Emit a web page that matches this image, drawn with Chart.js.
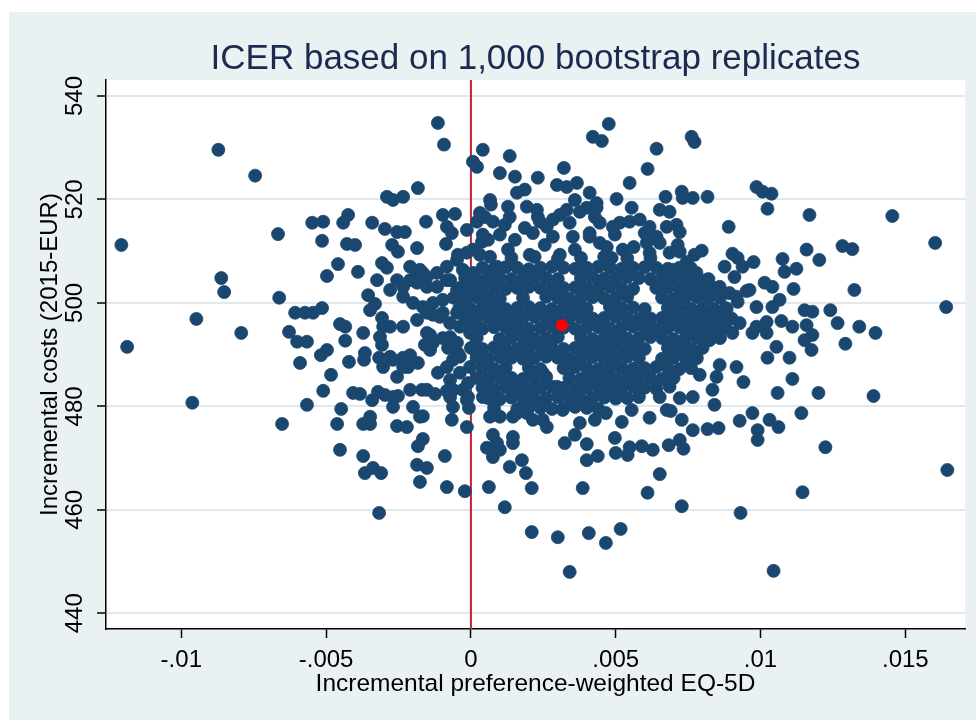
<!DOCTYPE html>
<html>
<head>
<meta charset="utf-8">
<title>ICER based on 1,000 bootstrap replicates</title>
<script src="https://cdn.jsdelivr.net/npm/chart.js@4.4.1/dist/chart.umd.min.js"></script>
<style>
  html, body { margin: 0; padding: 0; background: #ffffff; }
  #wrap { width: 976px; height: 720px; }
</style>
</head>
<body>
<div id="wrap"><canvas id="icerChart" width="976" height="720"></canvas></div>
<script>
// Axis set-up
var xTicks = [-0.01, -0.005, 0, 0.005, 0.01, 0.015];
var xTickLabels = ['-.01', '-.005', '0', '.005', '.01', '.015'];
var yTicks = [440, 460, 480, 500, 520, 540];
var xRange = [-0.0126, 0.01706];
var yRange = [436.96, 543.09];

// The point estimate (red dot)
var pointEstimate = [[0.00314, 495.7]];

// Bootstrap replicates: [incremental EQ-5D, incremental cost]
// left wing, mostly negative effects
var repsLeft = [
  [-0.01207,511.2],[-0.01187,491.5],[-0.00872,529.6],[-0.00948,496.9],[-0.00862,504.8],[-0.00852,502.1],
  [-0.00962,480.7],[-0.00793,494.2],[-0.00745,524.6],[-0.00666,513.3],[-0.00662,501.0],[-0.00652,476.6],
  [-0.00628,494.4],[-0.00600,492.5],[-0.00566,492.5],[-0.00590,488.4],[-0.00518,489.9],[-0.00497,490.9],
  [-0.00483,486.1],[-0.00510,483.0],[-0.00566,480.3],[-0.00607,498.1],[-0.00573,498.1],[-0.00545,498.1],
  [-0.00514,499.0],[-0.00548,515.5],[-0.00510,515.7],[-0.00514,512.0],[-0.00441,515.5],[-0.00424,517.0],
  [-0.00428,511.4],[-0.00400,511.2],[-0.00341,515.5],[-0.00459,507.5],[-0.00497,505.2],[-0.00390,506.0],
  [-0.00307,507.7],[-0.00290,506.8],[-0.00255,504.4],[-0.00355,501.5],[-0.00331,499.8],[-0.00452,495.9],
  [-0.00434,495.4],[-0.00372,494.2],[-0.00307,497.1],[-0.00303,495.4],[-0.00434,492.7],[-0.00421,488.6],
  [-0.00366,490.3],[-0.00369,489.0],[-0.00448,479.5],[-0.00462,476.6],[-0.00452,471.6],[-0.00407,482.6],
  [-0.00383,482.4],[-0.00341,481.2],[-0.00321,482.8],[-0.00297,482.2],[-0.00348,478.0],[-0.00372,476.6],
  [-0.00348,476.6],[-0.00372,470.4],[-0.00366,467.1],[-0.00338,468.1],[-0.00310,467.1],[-0.00317,459.4],
  [-0.00314,493.4],[-0.00307,491.9],[-0.00317,489.4],[-0.00303,487.6],[-0.00269,489.0],[-0.00234,489.4],
  [-0.00210,489.9],[-0.00217,487.6],[-0.00183,488.4],[-0.00255,485.7],[-0.00252,482.0],[-0.00269,479.9],
  [-0.00255,476.2],[-0.00221,476.0],[-0.00210,483.2],[-0.00200,479.9],[-0.00169,483.2],[-0.00152,483.2],
  [-0.00124,482.4],[-0.00166,478.1],[-0.00183,472.3],[-0.00166,473.7],[-0.00186,468.7],[-0.00152,468.1],
  [-0.00176,465.4],[-0.00083,464.4],[-0.00090,470.4],[-0.00021,463.6],[-0.00114,486.5],[-0.00159,491.9],
  [-0.00131,492.3],[-0.00097,493.2],[-0.00079,491.3],[-0.00048,492.3],[-0.00141,493.8],[-0.00038,489.6],
  [-0.00072,485.1],[-0.00062,483.2],[-0.00072,481.8],[-0.00062,479.9],[-0.00066,477.4],[-0.00010,484.5],
  [-0.00010,481.8],[-0.00007,479.7],[-0.00014,476.0],[-0.00003,487.6],[-0.00234,487.6],[-0.00279,489.6],
  [-0.00141,490.9],[-0.00072,493.4],[-0.00045,490.3],[-0.00062,489.0],[-0.00083,487.6],[-0.00038,486.5],
  [-0.00269,481.8],[-0.00083,483.0],[-0.00028,483.2],[-0.00014,481.2],[-0.00176,478.0],
  [-0.00324,504.4],[-0.00279,502.5],[-0.00234,503.1],[-0.00186,503.9],[-0.00152,503.1],[-0.00117,503.1],
  [-0.00072,504.4],[-0.00234,501.2],[-0.00200,500.0],[-0.00166,499.2],[-0.00131,500.0],[-0.00097,500.6],
  [-0.00048,502.5],[-0.00028,501.2],[-0.00003,502.5],[0.00031,501.9],[0.00041,503.9],[0.00007,505.8],
  [-0.00028,506.4],[-0.00348,498.6],[-0.00279,495.4],[-0.00234,495.4],[-0.00186,496.7],[-0.00152,498.1],
  [-0.00107,497.3],[-0.00072,496.1],[-0.00048,498.1],[-0.00003,498.6],[0.00031,498.1],[-0.00038,495.4],
  [-0.00003,494.2],[-0.00152,494.2],[-0.00131,497.7],[-0.00097,498.1]
];

// upper band, costs above ~505
var repsUpper = [
  [-0.00114,534.8],[-0.00093,530.6],[-0.00183,522.2],[-0.00290,520.5],[-0.00269,519.9],[-0.00234,520.5],
  [-0.00155,515.7],[-0.00297,514.3],[-0.00255,513.7],[-0.00228,513.7],[-0.00272,511.2],[-0.00252,509.9],
  [-0.00186,510.6],[-0.00097,517.0],[-0.00055,517.2],[-0.00083,514.7],[-0.00066,513.5],[-0.00086,511.4],
  [-0.00014,514.1],[0.00007,527.3],[0.00021,526.3],[-0.00210,507.0],[-0.00176,506.4],[-0.00193,504.8],
  [-0.00166,505.8],[-0.00210,504.4],[-0.00152,505.0],[-0.00117,505.8],[-0.00083,507.0],[-0.00048,508.3],
  [-0.00083,504.4],[-0.00045,509.3],[-0.00014,509.7],[0.00021,515.7],[0.00048,516.6],[0.00031,517.4],
  [0.00076,515.7],[0.00041,513.2],[0.00038,511.8],[0.00007,510.3],[0.00031,509.3],[0.00066,508.9],
  [0.00090,507.0],[0.00128,510.3],
  [0.00066,519.9],[0.00069,519.0],[0.00041,529.6],[0.00134,528.4],[0.00100,525.1],[0.00152,524.4],
  [0.00159,521.3],[0.00231,524.2],[0.00186,521.9],[0.00128,518.6],[0.00134,516.6],[0.00193,518.6],
  [0.00228,518.0],[0.00297,522.8],[0.00331,522.4],[0.00366,523.2],[0.00359,519.9],[0.00331,518.0],
  [0.00307,517.0],[0.00410,521.3],[0.00434,519.3],[0.00321,526.1],[0.00476,534.6],[0.00421,532.1],
  [0.00452,531.3],[0.00762,532.1],[0.00772,531.1],[0.00641,529.8],[0.00610,525.9],[0.00548,523.2],
  [0.00503,520.1],[0.00672,520.5],[0.00728,521.5],[0.00731,520.3],[0.00766,520.3],[0.00817,520.5],
  [0.00986,522.4],[0.01007,521.5],[0.01038,521.1],[0.01024,518.2],[0.01169,517.0],[0.01455,516.8],
  [0.01603,511.6],[0.00231,516.6],[0.00376,517.6],[0.00400,518.4],[0.00434,518.4],[0.00428,516.6],
  [0.00555,518.4],[0.00652,518.0],[0.00686,517.6],[0.00890,514.7],[0.00490,514.7],[0.00514,515.5],
  [0.00548,515.7],[0.00583,516.1],[0.00617,514.7],[0.00676,514.7],[0.00710,515.1],[0.00214,513.5],
  [0.00262,514.7],[0.00283,516.1],[0.00341,515.5],[0.00410,513.5],[0.00445,515.5],[0.00283,512.8],
  [0.00352,512.8],[0.00469,510.8],[0.00562,510.8],[0.00628,512.8],[0.00714,511.2],[0.00721,509.9],
  [0.00797,510.1],[0.00410,512.8],[0.00445,511.6],[0.00524,510.3],[0.00607,511.6],[0.00641,512.8],
  [0.00617,509.7],[0.00686,509.7],[0.00697,506.4],[0.00745,507.9],
  [0.00100,513.2],[0.00152,512.2],[0.00186,514.5],[0.00255,511.2],[0.00359,510.3],[0.00117,515.1],
  [0.00059,512.2],[0.00203,509.3],[0.00307,509.3],[0.00238,515.7],[0.00497,513.2],[0.00600,513.5],
  [0.00652,511.6],[0.00721,513.7],[0.00772,509.3],[0.00486,508.7]
];

// right wing, larger effects
var repsRight = [
  [0.00876,507.0],[0.00903,509.5],[0.00921,508.7],[0.00938,507.0],[0.00910,505.0],[0.00976,507.9],
  [0.01076,508.5],[0.01083,506.0],[0.01124,506.6],[0.01159,510.3],[0.01203,508.3],[0.01283,511.0],
  [0.01317,510.4],[0.01324,502.5],[0.01114,502.7],[0.01014,503.9],[0.01041,503.1],[0.00952,502.3],
  [0.01066,500.6],[0.01041,499.2],[0.00986,499.2],[0.01152,498.6],[0.01179,498.3],[0.01241,498.6],
  [0.00883,498.8],[0.00921,500.2],[0.00834,501.9],[0.00859,503.1],[0.00779,505.8],[0.00814,504.4],
  [0.01641,499.2],[0.01159,495.7],[0.01179,493.8],[0.01266,496.1],[0.01341,495.4],[0.01397,494.2],
  [0.00986,495.4],[0.01021,496.3],[0.01072,496.5],[0.01021,494.2],[0.00972,494.2],[0.00928,496.1],
  [0.00903,494.2],[0.00834,498.1],[0.00859,495.4],[0.00824,494.2],[0.00755,505.0],[0.00962,502.5],
  [0.00917,501.2],[0.00893,501.9],[0.00766,503.9],[0.00869,497.3],[0.01110,495.4],
  [0.01645,467.7],[0.01390,482.0],[0.01293,492.1],[0.01200,482.6],[0.01224,472.1],[0.01145,463.4],
  [0.01045,448.2],[0.00931,459.4],[0.00841,480.3],[0.00928,477.2],[0.00972,478.7],[0.00990,475.4],
  [0.00990,473.5],[0.01031,477.4],[0.01062,476.0],[0.01141,478.7],[0.01110,485.3],[0.01059,482.6],
  [0.00941,484.7],[0.01024,489.4],[0.01055,491.5],[0.01100,489.4],[0.01152,492.8],[0.01176,490.9],
  [0.00859,488.0],[0.00917,487.6],[0.00834,483.2],[0.00790,486.1],[0.00745,488.4],[0.00766,481.8],
  [0.00848,485.7],[0.00779,490.3],[0.00824,492.8],[0.00848,494.2],[0.00755,494.8],[0.00686,483.8],
  [0.00721,481.6]
];

// lower band, costs below ~480
var repsLower = [
  [0.00341,448.0],[0.00728,460.7],[0.00610,463.3],[0.00652,466.9],[0.00517,456.3],[0.00466,453.6],
  [0.00407,455.5],[0.00300,454.7],[0.00210,455.7],[0.00386,464.2],[0.00210,464.2],[0.00062,464.4],
  [0.00117,460.5],[0.00134,468.3],[0.00176,469.6],[0.00190,467.1],[0.00055,472.0],[0.00076,470.2],
  [0.00100,471.6],[0.00076,474.5],[0.00145,472.9],[0.00214,477.4],[0.00262,476.0],[0.00324,472.9],
  [0.00359,474.5],[0.00400,472.7],[0.00400,469.6],[0.00438,470.4],[0.00500,471.0],[0.00541,470.6],
  [0.00548,472.1],[0.00590,472.3],[0.00628,471.6],[0.00497,473.9],[0.00521,477.0],[0.00683,472.5],
  [0.00721,473.5],[0.00734,471.8],[0.00376,476.8],[0.00428,477.4],[0.00466,478.7],[0.00617,477.8],
  [0.00690,479.1],[0.00728,477.4],[0.00766,475.4],[0.00817,475.6],[0.00855,475.8],[0.00676,479.3],
  [0.00652,481.8],[0.00555,479.3],[0.00503,482.6],[0.00445,482.6],[0.00376,483.2],[0.00317,479.3],
  [0.00297,483.8],[0.00248,486.5],[0.00203,483.2],[0.00179,479.3],[0.00145,478.0],[0.00100,478.0],
  [0.00066,478.0],[0.00041,481.8],[0.00090,481.8],[0.00090,472.9],[0.00145,474.1],[0.00193,478.7],
  [0.00159,478.7],[0.00248,477.4]
];

// dense core of the cloud around the point estimate
var repsCore = [
  [0.0014,508.7],[0.0022,508.9],[0.0030,508.5],[0.0038,508.7],[0.0046,508.9],[0.0054,508.6],[0.0062,508.7],
  [0.0004,506.8],[0.0008,506.6],[0.0012,506.9],[0.0016,506.8],[0.0020,506.5],[0.0024,506.8],[0.0028,507.0],
  [0.0032,506.8],[0.0036,506.6],[0.0040,506.8],[0.0044,507.0],[0.0048,506.8],[0.0052,506.6],[0.0056,506.8],
  [0.0060,506.9],[0.0064,506.8],[0.0068,506.6],[0.0072,506.8],[0.0076,506.7],
  [-0.0002,504.8],[0.0002,504.6],[0.0006,504.9],[0.0010,504.8],[0.0014,504.6],[0.0018,504.8],[0.0022,505.0],
  [0.0026,504.8],[0.0030,504.6],[0.0038,504.8],[0.0042,504.9],[0.0046,504.7],[0.0050,504.8],
  [0.0054,505.0],[0.0058,504.8],[0.0062,504.6],[0.0066,504.8],[0.0070,504.9],[0.0074,504.7],[0.0078,504.8],
  [0.0082,504.6],
  [-0.0004,502.9],[0.0000,502.7],[0.0004,503.0],[0.0008,502.9],[0.0012,502.7],[0.0016,502.9],[0.0020,503.1],
  [0.0024,502.9],[0.0028,502.7],[0.0032,502.9],[0.0036,503.0],[0.0040,502.8],[0.0044,502.9],[0.0048,503.1],
  [0.0052,502.9],[0.0056,502.7],[0.0064,502.9],[0.0068,503.0],[0.0072,502.8],[0.0076,502.9],[0.0080,502.7],
  [0.0084,502.9],
  [-0.0006,501.0],[-0.0002,500.8],[0.0002,501.1],[0.0006,501.0],[0.0010,500.8],[0.0018,501.0],
  [0.0026,501.2],[0.0030,501.0],[0.0034,500.8],[0.0038,501.0],[0.0042,501.1],[0.0046,500.9],
  [0.0050,501.0],[0.0054,501.2],[0.0066,501.0],[0.0070,500.8],[0.0074,501.0],[0.0078,501.1],[0.0082,500.9],
  [0.0086,501.0],
  [-0.0004,499.0],[0.0000,498.8],[0.0004,499.1],[0.0008,499.0],[0.0012,498.8],[0.0016,499.0],[0.0020,499.2],
  [0.0024,499.0],[0.0028,498.8],[0.0032,499.0],[0.0036,499.1],[0.0040,498.9],[0.0048,499.2],
  [0.0052,499.0],[0.0056,499.1],[0.0060,498.8],[0.0068,499.0],[0.0072,499.1],[0.0076,498.9],[0.0080,499.0],
  [0.0084,498.8],[0.0088,499.0],
  [-0.0002,497.1],[0.0002,496.9],[0.0006,497.2],[0.0010,497.1],[0.0014,496.9],[0.0018,497.1],[0.0022,497.3],
  [0.0026,497.1],[0.0030,496.9],[0.0034,497.1],[0.0038,497.2],[0.0042,497.0],[0.0046,497.1],[0.0050,497.3],
  [0.0054,497.1],[0.0058,496.9],[0.0062,497.0],[0.0066,497.1],[0.0070,497.2],[0.0074,497.0],[0.0078,497.1],
  [0.0082,496.9],[0.0086,497.1],[0.0090,497.0],
  [0.0000,495.2],[0.0004,495.0],[0.0008,495.3],[0.0012,495.2],[0.0016,495.1],[0.0020,495.0],[0.0024,495.2],
  [0.0028,495.4],[0.0032,495.2],[0.0036,495.0],[0.0040,495.2],[0.0044,495.3],[0.0048,495.1],[0.0052,495.2],
  [0.0056,495.4],[0.0060,495.2],[0.0064,495.0],[0.0068,495.2],[0.0072,495.3],[0.0076,495.1],[0.0080,495.2],
  [0.0084,495.0],[0.0088,495.2],
  [0.0002,493.2],[0.0010,493.0],[0.0014,493.3],[0.0018,493.2],[0.0022,493.0],[0.0026,493.2],
  [0.0030,493.4],[0.0038,493.2],[0.0042,493.0],[0.0046,493.2],[0.0050,493.3],[0.0054,493.1],
  [0.0058,493.2],[0.0062,493.4],[0.0066,493.2],[0.0070,493.0],[0.0074,493.2],[0.0078,493.3],[0.0082,493.1],
  [0.0086,493.2],
  [0.0000,491.3],[0.0004,491.1],[0.0008,491.4],[0.0012,491.3],[0.0016,491.1],[0.0020,491.3],[0.0024,491.5],
  [0.0028,491.3],[0.0032,491.1],[0.0036,491.3],[0.0040,491.4],[0.0044,491.2],[0.0048,491.3],[0.0052,491.5],
  [0.0056,491.3],[0.0060,491.1],[0.0068,491.3],[0.0072,491.4],[0.0076,491.2],[0.0080,491.3],
  [0.0002,489.4],[0.0006,489.2],[0.0010,489.5],[0.0014,489.4],[0.0018,489.2],[0.0022,489.4],[0.0026,489.6],
  [0.0030,489.4],[0.0034,489.2],[0.0038,489.4],[0.0042,489.5],[0.0046,489.3],[0.0050,489.4],[0.0054,489.6],
  [0.0058,489.4],[0.0066,489.2],[0.0070,489.4],[0.0074,489.5],[0.0078,489.3],
  [0.0004,487.4],[0.0008,487.2],[0.0012,487.5],[0.0020,487.4],[0.0024,487.2],
  [0.0032,487.4],[0.0036,487.6],[0.0040,487.4],[0.0044,487.2],[0.0048,487.4],[0.0052,487.5],[0.0056,487.3],
  [0.0060,487.4],[0.0064,487.6],[0.0068,487.4],[0.0072,487.2],[0.0076,487.4],
  [0.0002,485.5],[0.0006,485.3],[0.0010,485.6],[0.0014,485.5],[0.0018,485.3],[0.0022,485.5],[0.0026,485.7],
  [0.0034,485.5],[0.0038,485.3],[0.0042,485.5],[0.0046,485.6],[0.0050,485.4],[0.0054,485.5],
  [0.0058,485.7],[0.0062,485.5],[0.0066,485.3],[0.0070,485.5],
  [0.0004,483.6],[0.0008,483.4],[0.0012,483.7],[0.0016,483.6],[0.0020,483.4],[0.0024,483.6],[0.0028,483.8],
  [0.0032,483.6],[0.0036,483.4],[0.0040,483.6],[0.0044,483.7],[0.0048,483.5],[0.0052,483.6],[0.0056,483.8],
  [0.0060,483.6],[0.0064,483.4],
  [0.0006,481.6],[0.0010,481.4],[0.0014,481.7],[0.0018,481.6],[0.0022,481.4],[0.0026,481.6],[0.0030,481.8],
  [0.0034,481.6],[0.0038,481.4],[0.0042,481.6],[0.0046,481.7],[0.0050,481.5],[0.0054,481.6],[0.0058,481.8],
  [0.0008,479.7],[0.0016,479.5],[0.0020,479.8],[0.0024,479.7],[0.0028,479.5],[0.0032,479.7],
  [0.0036,479.9],[0.0040,479.7],[0.0044,479.5]
];

var allReps = repsLeft.concat(repsUpper, repsRight, repsLower, repsCore);

function toXY(p) { return { x: p[0], y: p[1] }; }

var FONT = "'Liberation Sans', Arial, Helvetica, sans-serif";
Chart.defaults.font.family = FONT;

// Stata style frame: white strip, bluish-gray graph region, white plot region, title
var stataFrame = {
  id: 'stataFrame',
  beforeDraw: function (chart) {
    var ctx = chart.ctx, a = chart.chartArea;
    ctx.save();
    ctx.fillStyle = '#ffffff';
    ctx.fillRect(0, 0, chart.width, chart.height);
    ctx.fillStyle = '#e9f1f3';
    ctx.fillRect(9, 12, chart.width - 9, chart.height - 12);
    ctx.fillStyle = '#ffffff';
    ctx.fillRect(a.left, a.top, a.right - a.left, a.bottom - a.top);
    ctx.restore();
  },
  afterDraw: function (chart) {
    var ctx = chart.ctx, a = chart.chartArea;
    ctx.save();
    ctx.fillStyle = '#1c2a4f';
    ctx.font = '35px ' + FONT;
    ctx.textAlign = 'center';
    ctx.textBaseline = 'alphabetic';
    ctx.fillText('ICER based on 1,000 bootstrap replicates', (a.left + a.right) / 2, 69);
    ctx.restore();
  }
};

new Chart(document.getElementById('icerChart'), {
  type: 'scatter',
  data: {
    datasets: [
      {
        label: 'Point estimate',
        data: pointEstimate.map(toXY),
        pointRadius: 6,
        pointHoverRadius: 6,
        backgroundColor: '#ff0000',
        borderColor: '#ff0000',
        borderWidth: 0,
        order: 0
      },
      {
        label: 'Bootstrap replicates',
        data: allReps.map(toXY),
        pointRadius: 6.5,
        pointHoverRadius: 6.5,
        backgroundColor: '#1a476f',
        borderColor: '#1a476f',
        borderWidth: 0.8,
        order: 1
      },
      {
        // xline(0)
        type: 'line',
        label: 'zero effect',
        data: [{ x: 0, y: yRange[0] }, { x: 0, y: yRange[1] }],
        borderColor: '#c81e3c',
        borderWidth: 2,
        pointRadius: 0,
        fill: false,
        order: 2
      }
    ]
  },
  options: {
    responsive: false,
    animation: false,
    devicePixelRatio: 1,
    layout: { padding: { left: 0, right: 11, top: 80, bottom: 0 } },
    plugins: {
      legend: { display: false },
      tooltip: { enabled: false }
    },
    scales: {
      x: {
        type: 'linear',
        min: xRange[0],
        max: xRange[1],
        afterBuildTicks: function (s) {
          s.ticks = xTicks.map(function (v) { return { value: v }; });
        },
        afterFit: function (s) { s.height = 91; },
        grid: { drawOnChartArea: false, tickLength: 9, tickColor: '#000000', tickWidth: 1.5 },
        border: { color: '#000000', width: 1.5 },
        ticks: {
          color: '#000000',
          font: { size: 24 },
          padding: 8,
          autoSkip: false,
          maxRotation: 0,
          callback: function (v, i) { return xTickLabels[i]; }
        },
        title: {
          display: true,
          text: 'Incremental preference-weighted EQ-5D',
          color: '#000000',
          font: { size: 24.5 },
          padding: { top: 0, bottom: 21 }
        }
      },
      y: {
        type: 'linear',
        min: yRange[0],
        max: yRange[1],
        afterBuildTicks: function (s) {
          s.ticks = yTicks.map(function (v) { return { value: v }; });
        },
        afterFit: function (s) { s.width = 106; },
        grid: { color: '#e0eaee', lineWidth: 2, tickLength: 9, tickColor: '#000000', tickWidth: 1.5 },
        border: { color: '#000000', width: 1.5 },
        ticks: {
          color: '#000000',
          font: { size: 24 },
          padding: 2,
          autoSkip: false,
          minRotation: 90,
          maxRotation: 90,
          crossAlign: 'center',
          callback: function (v) { return String(v); }
        },
        title: {
          display: true,
          text: 'Incremental costs (2015-EUR)',
          color: '#000000',
          font: { size: 24 },
          padding: { top: 36, bottom: 0 }
        }
      }
    }
  },
  plugins: [stataFrame]
});
</script>
</body>
</html>
